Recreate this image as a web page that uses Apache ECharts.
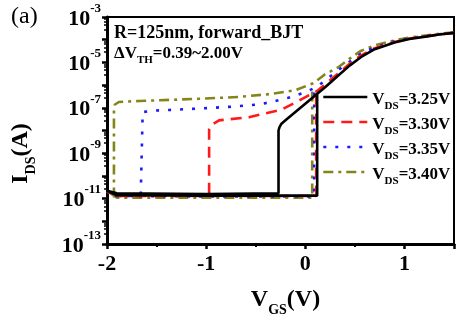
<!DOCTYPE html>
<html><head><meta charset="utf-8">
<script src="https://cdn.jsdelivr.net/npm/echarts@6/dist/echarts.min.js"></script>
<style>html,body{margin:0;padding:0;background:#fff}#c{width:457px;height:322px}</style>
</head><body><div id="c"></div>
<script>
// ---- data (VGS in V, IDS in A), each list traces one hysteresis loop ----
const vdsNames = ['3.25', '3.30', '3.35', '3.40'];
const xTickLabels = [-2, -1, 0, 1];
const yLabelExps = [-3, -5, -7, -9, -11, -13];

const v325 = [1.5, 1.35, 1.23, 1.05, 0.9, 0.7, 0.56, 0.45, 0.33, 0.2, 0.13, -0.2, -0.24, -0.26, -0.27, -0.27, -1.0, -1.9, -2.0, -2.0, -1.9, -1.0, 0.0, 0.12, 0.12];
const i325 = [2.0e-4, 1.7e-4, 1.4e-4, 1.07e-4, 7.6e-5, 3.8e-5, 1.7e-5, 7.4e-6, 2.6e-6, 8e-7, 4.5e-7, 2.8e-8, 2.0e-8, 1.4e-8, 1.0e-8, 1.7e-11, 1.6e-11, 1.7e-11, 2.2e-11, 2.2e-11, 1.4e-11, 1.35e-11, 1.35e-11, 1.35e-11, 4.5e-7];

const v330 = [1.5, 1.35, 1.23, 1.05, 0.9, 0.7, 0.56, 0.45, 0.33, 0.2, 0.12, 0.08, -0.07, -0.24, -0.57, -0.87, -0.95, -0.97, -0.97, -1.5, -1.9, -2.0, -2.0, -1.9, -1.0, 0.0, 0.11, 0.11];
const i330 = [2.0e-4, 1.7e-4, 1.45e-4, 1.12e-4, 8e-5, 4.2e-5, 2.0e-5, 8.9e-6, 3.2e-6, 1.1e-6, 5.5e-7, 4.5e-7, 2.0e-7, 8.3e-8, 3.8e-8, 2.8e-8, 1.7e-8, 1.15e-8, 1.5e-11, 1.4e-11, 1.5e-11, 2.1e-11, 2.1e-11, 1.3e-11, 1.3e-11, 1.3e-11, 1.3e-11, 5.5e-7];

const v335 = [1.5, 1.35, 1.23, 1.05, 0.9, 0.7, 0.56, 0.45, 0.33, 0.2, 0.11, -0.02, -0.17, -0.32, -0.47, -0.77, -1.07, -1.37, -1.52, -1.64, -1.66, -1.66, -1.9, -2.0, -2.0, -1.9, -1.0, 0.0, 0.09, 0.09];
const i335 = [2.0e-4, 1.75e-4, 1.5e-4, 1.17e-4, 8.5e-5, 4.7e-5, 2.4e-5, 1.1e-5, 4.5e-6, 1.6e-6, 8e-7, 4.5e-7, 2.8e-7, 1.9e-7, 1.4e-7, 1.1e-7, 9.3e-8, 8e-8, 7.6e-8, 6.5e-8, 5.5e-8, 1.3e-11, 1.3e-11, 2.0e-11, 2.0e-11, 1.3e-11, 1.25e-11, 1.25e-11, 1.25e-11, 7e-7];

const v340 = [1.5, 1.35, 1.23, 1.05, 0.9, 0.7, 0.56, 0.45, 0.33, 0.2, 0.08, -0.1, -0.34, -0.67, -1.07, -1.67, -1.88, -1.92, -1.93, -1.93, -2.0, -2.0, -1.9, -1.0, 0.0, 0.07, 0.07];
const i340 = [2.1e-4, 1.8e-4, 1.55e-4, 1.25e-4, 9.3e-5, 5.6e-5, 3.2e-5, 1.5e-5, 6e-6, 3.0e-6, 1.2e-6, 6e-7, 4.1e-7, 3.0e-7, 2.5e-7, 2.0e-7, 1.8e-7, 1.4e-7, 1.0e-7, 1.2e-11, 2.2e-11, 2.2e-11, 1.1e-11, 1.1e-11, 1.1e-11, 1.1e-11, 8e-7];

const colors = ['#000000', '#ff1a1a', '#1a1aff', '#84841a'];
const dashes = ['solid', [11, 7], [3, 9], [10, 5, 3, 5]];
const xs = [v325, v330, v335, v340];
const ys = [i325, i330, i335, i340];

const FONT = 'Liberation Serif';
const tickRich = {
  b: {fontFamily: FONT, fontWeight: 'bold', fontSize: 22, color: '#000', lineHeight: 26, verticalAlign: 'bottom'},
  s: {fontFamily: FONT, fontWeight: 'bold', fontSize: 13, color: '#000', lineHeight: 26, verticalAlign: 'top', padding: [-2, 0, 0, 0]}
};
const titleRich = {
  b: {fontFamily: FONT, fontWeight: 'bold', fontSize: 24, color: '#000', lineHeight: 28, verticalAlign: 'bottom'},
  sub: {fontFamily: FONT, fontWeight: 'bold', fontSize: 14, color: '#000', lineHeight: 28, verticalAlign: 'bottom', padding: [0, 0, -5, 0]}
};

const chart = echarts.init(document.getElementById('c'), null, {renderer: 'canvas'});
const series = vdsNames.map((n, k) => ({
  name: n,
  type: 'line',
  data: xs[k].map((x, j) => [x, ys[k][j]]),
  symbol: 'none',
  showSymbol: false,
  animation: false,
  lineStyle: {color: colors[k], width: 2.6, type: dashes[k]},
  itemStyle: {color: colors[k]},
  z: 10 - k
}));

chart.setOption({
  animation: false,
  grid: {left: 107, right: 1, top: 17, bottom: 72, show: true, borderColor: '#000', borderWidth: 2},
  legend: {
    orient: 'vertical', left: 317, top: 86, itemWidth: 44, itemHeight: 14, itemGap: 4,
    selectedMode: false,
    data: vdsNames,
    lineStyle: {width: 2.6},
    itemStyle: {opacity: 0},
    formatter: n => '{v|V}{d|DS}{v|=' + n + 'V}',
    textStyle: {
      rich: {
        v: {fontFamily: FONT, fontWeight: 'bold', fontSize: 17, color: '#000', lineHeight: 22, verticalAlign: 'bottom'},
        d: {fontFamily: FONT, fontWeight: 'bold', fontSize: 11, color: '#000', lineHeight: 22, verticalAlign: 'bottom', padding: [0, 0, -4, 0]}
      }
    }
  },
  xAxis: {
    type: 'value', min: -2, max: 1.5, interval: 1,
    axisLine: {onZero: false, lineStyle: {color: '#000', width: 3}},
    axisTick: {show: true, length: 5, lineStyle: {color: '#000', width: 2.5}},
    minorTick: {show: true, splitNumber: 2, length: 3, lineStyle: {color: '#000', width: 2}},
    splitLine: {show: false},
    axisLabel: {
      margin: 9,
      formatter: v => xTickLabels.includes(v) ? String(v) : '',
      fontFamily: FONT, fontWeight: 'bold', fontSize: 22, color: '#000'
    },
    name: '{b|V}{sub|GS}{b|(V)}',
    nameLocation: 'middle', nameGap: 40,
    nameTextStyle: {rich: titleRich, padding: [0, 0, 0, 10]}
  },
  yAxis: {
    type: 'log', logBase: 10, min: 1e-13, max: 1e-3, splitNumber: 10,
    axisLine: {onZero: false, lineStyle: {color: '#000', width: 3}},
    axisTick: {show: true, length: 5, lineStyle: {color: '#000', width: 2.5}},
    minorTick: {show: true, splitNumber: 5, length: 3, lineStyle: {color: '#000', width: 1.5}},
    splitLine: {show: false},
    axisLabel: {
      margin: 6,
      formatter: v => {
        const e = Math.round(Math.log10(v));
        return yLabelExps.includes(e) ? '{b|10}{s|' + e + '}' : '';
      },
      rich: tickRich
    },
    name: '{b|I}{sub|DS}{b|(A)}',
    nameLocation: 'middle', nameRotate: 90, nameGap: 74,
    nameTextStyle: {rich: titleRich, padding: [0, 46, 0, 0]}
  },
  graphic: [
    {type: 'text', left: 11, top: 5, style: {text: '(a)', fontFamily: FONT, fontSize: 24, fill: '#000'}},
    {type: 'text', left: 114, top: 24, style: {text: 'R=125nm, forward_BJT', fontFamily: FONT, fontWeight: 'bold', fontSize: 18, fill: '#000'}},
    {type: 'text', left: 114, top: 45, style: {
      text: '{m|ΔV}{t|TH}{m|=0.39~2.00V}',
      rich: {
        m: {fontFamily: FONT, fontWeight: 'bold', fontSize: 17, fill: '#000', lineHeight: 22, verticalAlign: 'bottom'},
        t: {fontFamily: FONT, fontWeight: 'bold', fontSize: 11, fill: '#000', lineHeight: 22, verticalAlign: 'bottom', padding: [0, 0, -4, 0]}
      }
    }}
  ],
  series: series
});
</script>
</body></html>
